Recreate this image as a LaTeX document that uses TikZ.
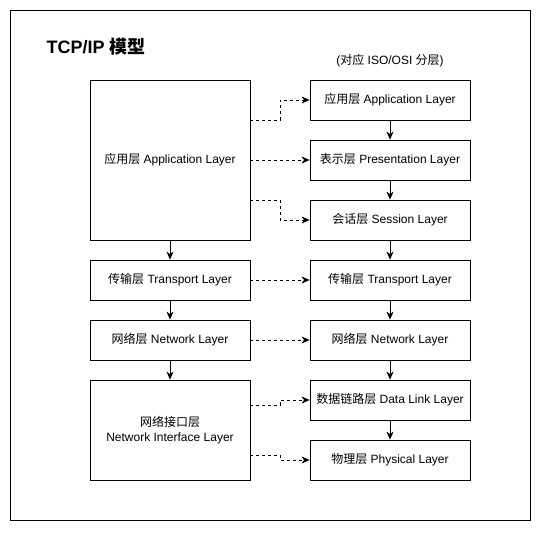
\documentclass[tikz,border=0pt]{standalone}
\usepackage{fontspec}
\setmainfont{Liberation Sans}
\newfontfamily\zhfont{Noto Sans CJK SC}
\newcommand{\zh}[1]{{\zhfont #1}}
\usetikzlibrary{arrows.meta}
\tikzset{
  layer/.style={draw, line width=0.8pt, minimum width=160pt, minimum height=40pt, inner sep=0pt, align=center, font=\fontsize{12}{15}\selectfont},
  flow/.style={line width=0.8pt, -{Stealth[length=8pt, width=7pt, inset=2.5pt]}},
  maps/.style={flow, dash pattern=on 3pt off 3pt}
}
\begin{document}
\begin{tikzpicture}[x=1pt, y=-1pt]
\useasboundingbox (0,0) rectangle (541,539);
\draw[line width=0.8pt] (10,10) rectangle (530,520);
\node[anchor=west, font=\fontsize{18}{22}\selectfont\bfseries] (title) at (43,47) {TCP/IP \zh{模型}};
\node[font=\fontsize{12}{15}\selectfont] (osititle) at (390,61) {(\zh{对应} ISO/OSI \zh{分层})};
% TCP/IP layers
\node[layer, minimum height=160pt] (app) at (170,160) {\zh{应用层} Application Layer};
\node[layer] (trans) at (170,280) {\zh{传输层} Transport Layer};
\node[layer] (net) at (170,340) {\zh{网络层} Network Layer};
\node[layer, minimum height=100pt] (nif) at (170,430) {\zh{网络接口层}\\Network Interface Layer};
% OSI layers
\node[layer] (oapp) at (390,100) {\zh{应用层} Application Layer};
\node[layer] (opres) at (390,160) {\zh{表示层} Presentation Layer};
\node[layer] (osess) at (390,220) {\zh{会话层} Session Layer};
\node[layer] (otrans) at (390,280) {\zh{传输层} Transport Layer};
\node[layer] (onet) at (390,340) {\zh{网络层} Network Layer};
\node[layer] (olink) at (390,400) {\zh{数据链路层} Data Link Layer};
\node[layer] (ophy) at (390,460) {\zh{物理层} Physical Layer};
\draw[flow] (app) -- (trans);
\draw[flow] (trans) -- (net);
\draw[flow] (net) -- (nif);
\draw[flow] (oapp) -- (opres);
\draw[flow] (opres) -- (osess);
\draw[flow] (osess) -- (otrans);
\draw[flow] (otrans) -- (onet);
\draw[flow] (onet) -- (olink);
\draw[flow] (olink) -- (ophy);
% mapping
\draw[maps] ([yshift=40pt]app.east) -- ++(30,0) |- (oapp.west);
\draw[maps] (app) -- (opres);
\draw[maps] ([yshift=-40pt]app.east) -- ++(30,0) |- (osess.west);
\draw[maps] (trans) -- (otrans);
\draw[maps] (net) -- (onet);
\draw[maps] ([yshift=25pt]nif.east) -- ++(30,0) |- (olink.west);
\draw[maps] ([yshift=-25pt]nif.east) -- ++(30,0) |- (ophy.west);
\end{tikzpicture}
\end{document}
